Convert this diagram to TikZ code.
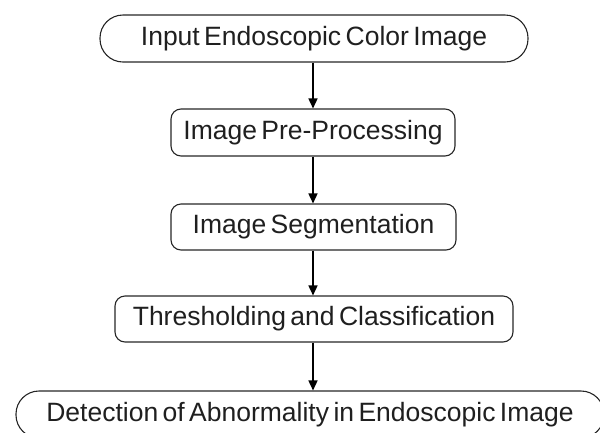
\documentclass[tikz,border=0pt]{standalone}
\usepackage{fontspec}
\setmainfont[WordSpace=0.6]{Liberation Sans}
\usetikzlibrary{arrows.meta}
\begin{document}
\begin{tikzpicture}[x=1pt,y=-1pt,
  box/.style={draw=black!85, line width=1.1pt, rounded corners=10pt, inner sep=0pt,
    font=\fontsize{26.5}{30}\selectfont, text=black!88},
  pill/.style={box, rounded corners=23pt},
  flow/.style={draw=black, line width=1.5pt, -{Triangle[length=10pt,width=9pt]}}]
\useasboundingbox (0,0) rectangle (600,432);
\node[pill, minimum width=428pt, minimum height=47pt] (a) at (314,38.5) {Input Endoscopic Color Image};
\node[box, minimum width=284pt, minimum height=47pt] (b) at (313,132.5) {Image Pre-Processing};
\node[box, minimum width=285pt, minimum height=46pt] (c) at (313.5,227) {Image Segmentation};
\node[box, minimum width=398pt, minimum height=46pt] (d) at (314,319) {Thresholding and Classification};
\node[pill, minimum width=588pt, minimum height=47pt] (e) at (310,414.5) {Detection of Abnormality in Endoscopic Image};
\draw[flow] (a.south -| 313,0) -- (b.north -| 313,0);
\draw[flow] (b.south -| 313,0) -- (c.north -| 313,0);
\draw[flow] (c.south -| 313,0) -- (d.north -| 313,0);
\draw[flow] (d.south -| 313,0) -- (e.north -| 313,0);
\end{tikzpicture}
\end{document}
